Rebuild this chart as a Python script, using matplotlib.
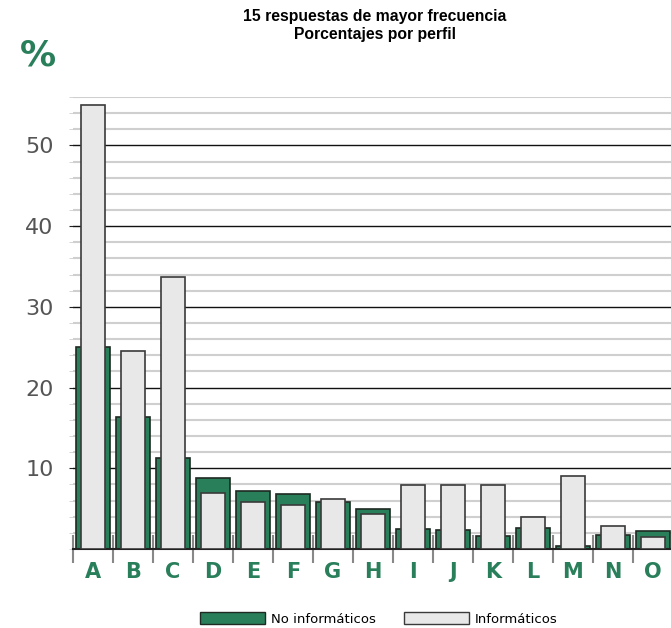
import matplotlib.pyplot as plt
import matplotlib.ticker as ticker
from matplotlib.patches import Patch
import numpy as np

categories = ["A", "B", "C", "D", "E", "F", "G", "H", "I", "J", "K", "L", "M", "N", "O"]
no_informaticos = [25.0, 16.3, 11.3, 8.8, 7.2, 6.8, 5.8, 4.9, 2.5, 2.3, 1.6, 2.6, 0.4, 1.7, 2.2]
informaticos = [55.0, 24.5, 33.7, 6.9, 5.8, 5.5, 6.2, 4.3, 7.9, 7.9, 7.9, 4.0, 9.1, 2.9, 1.5]
series_names = ["No informáticos", "Informáticos"]

green = "#2a7f5b"
light = "#e8e8e8"

fig = plt.figure(figsize=(6.71, 6.28), dpi=100)
ax = fig.add_axes([73 / 671, 79 / 628, 600 / 671, 452 / 628])

x = np.arange(len(categories))
ax.bar(x, no_informaticos, width=0.87, color=green, edgecolor="#1e2a22", linewidth=1.2, zorder=2)
ax.bar(x, informaticos, width=0.6, color=light, edgecolor="#3a3a3a", linewidth=1.2, zorder=3)

ax.set_xlim(-0.5, len(categories) - 0.5)
ax.set_ylim(0, 56)

# grid: black every 10, light grey every 2
ax.yaxis.set_major_locator(ticker.MultipleLocator(10))
ax.yaxis.set_minor_locator(ticker.MultipleLocator(2))
ax.grid(True, axis="y", which="major", color="#111111", linewidth=1.0, zorder=0)
ax.grid(True, axis="y", which="minor", color="#cfcfcf", linewidth=1.5, zorder=0)
ax.set_axisbelow(True)

ax.set_yticks([10, 20, 30, 40, 50])
ax.set_yticklabels(["10", "20", "30", "40", "50"])
ax.tick_params(axis="y", which="major", length=3, color="#222222", labelsize=16,
               labelcolor="#555555", pad=11)
ax.tick_params(axis="y", which="minor", length=3, color="#cfcfcf")

ax.set_xticks(x)
ax.set_xticklabels(categories)
ax.xaxis.set_minor_locator(ticker.FixedLocator(np.arange(-0.5, len(categories), 1.0)))
ax.tick_params(axis="x", which="major", length=0, labelsize=15, labelcolor=green, pad=9)
ax.tick_params(axis="x", which="minor", length=20, direction="inout", width=1.5, color="#888888")
for lbl in ax.get_xticklabels():
    lbl.set_fontweight("bold")

for side in ["top", "right", "left"]:
    ax.spines[side].set_visible(False)
ax.spines["bottom"].set_color("#222222")
ax.spines["bottom"].set_linewidth(1.5)

fig.text(375 / 671, 1 - 17 / 628, "15 respuestas de mayor frecuencia", ha="center", va="center",
         fontsize=11.3, fontweight="bold", family="Liberation Sans")
fig.text(375 / 671, 1 - 35 / 628, "Porcentajes por perfil", ha="center", va="center",
         fontsize=11.3, fontweight="bold", family="Liberation Sans")
fig.text(38 / 671, 1 - 56 / 628, "%", ha="center", va="center", fontsize=26,
         fontweight="bold", color=green)

handles = [Patch(facecolor=green, edgecolor="#1e2a22", linewidth=1.0),
           Patch(facecolor=light, edgecolor="#3a3a3a", linewidth=1.0)]
fig.legend(handles, series_names, loc="center", bbox_to_anchor=(379 / 671, 1 - 619 / 628),
           ncol=2, frameon=False, fontsize=9.5, handlelength=4.9, handleheight=1.0,
           handletextpad=0.5, columnspacing=2.1)

fig.savefig("out.png", dpi=100)
